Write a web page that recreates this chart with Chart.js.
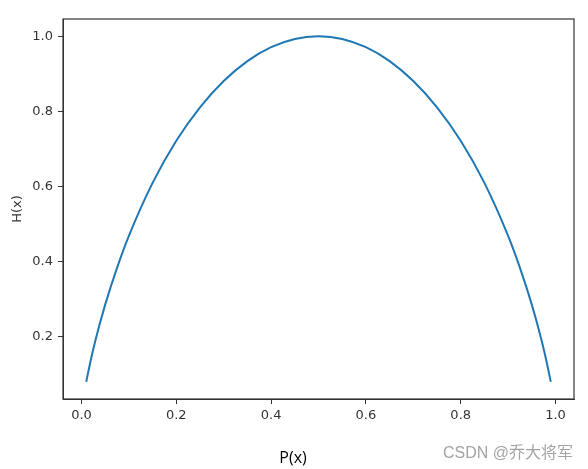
<!DOCTYPE html>
<html>
<head>
<meta charset="utf-8">
<script src="https://cdn.jsdelivr.net/npm/chart.js@4"></script>
<style>
  html, body { margin: 0; padding: 0; background: #fff; }
  #wrap { position: relative; width: 588px; height: 469px; }
  #xlabel {
    position: absolute; left: 293px; top: 457px; transform: translate(-50%, -50%);
    font-family: "Open Sans", sans-serif; font-size: 16px; color: #000; white-space: nowrap;
  }
  #mark {
    position: absolute; right: 15px; top: 451px; transform: translateY(-50%);
    font-family: "Liberation Sans", "Noto Sans CJK SC", sans-serif; font-size: 16px;
    color: #a3a3a3; white-space: nowrap;
  }
</style>
</head>
<body>
<div id="wrap">
  <canvas id="entropyChart" width="588" height="469"></canvas>
  <div id="xlabel">P(x)</div>
  <div id="mark">CSDN @乔大将军</div>
</div>
<script>
// 数据：点
const pValues = [0.01, 0.02, 0.03, 0.05, 0.075, 0.1, 0.15, 0.2, 0.25, 0.3, 0.35, 0.4, 0.45, 0.5,
                 0.55, 0.6, 0.65, 0.7, 0.75, 0.8, 0.85, 0.9, 0.925, 0.95, 0.97, 0.98, 0.99];
const hValues = [0.081, 0.141, 0.194, 0.286, 0.384, 0.469, 0.610, 0.722, 0.811, 0.881, 0.934, 0.971, 0.993, 1.0,
                 0.993, 0.971, 0.934, 0.881, 0.811, 0.722, 0.610, 0.469, 0.384, 0.286, 0.194, 0.141, 0.081];
const xTicks = [0.0, 0.2, 0.4, 0.6, 0.8, 1.0];
const yTicks = [0.2, 0.4, 0.6, 0.8, 1.0];

const tickFont = { family: 'DejaVu Sans', size: 13 };
const axisColor = '#333';

// 画四周的边框（matplotlib 风格）
const framePlugin = {
  id: 'frame',
  afterDraw(chart) {
    const a = chart.chartArea;
    const ctx = chart.ctx;
    ctx.save();
    ctx.strokeStyle = axisColor;
    ctx.lineWidth = 1.2;
    ctx.strokeRect(a.left, a.top, a.right - a.left, a.bottom - a.top);
    ctx.restore();
  }
};

const ctx = document.getElementById('entropyChart').getContext('2d');
new Chart(ctx, {
  type: 'scatter',
  data: {
    datasets: [{
      data: pValues.map((p, i) => ({ x: p, y: hValues[i] })),
      showLine: true,
      borderColor: '#1f77b4',
      borderWidth: 2,
      pointRadius: 0,
      cubicInterpolationMode: 'monotone'
    }]
  },
  options: {
    responsive: false,
    animation: false,
    layout: { padding: { left: 0, right: 14, top: 19, bottom: 0 } },
    plugins: { legend: { display: false }, tooltip: { enabled: false } },
    scales: {
      x: {
        type: 'linear',
        min: -0.039, max: 1.039,
        afterBuildTicks: s => { s.ticks = xTicks.map(v => ({ value: v })); },
        afterFit: s => { s.height = 70; },
        ticks: { font: tickFont, color: axisColor, padding: 4, maxRotation: 0,
                 callback: v => v.toFixed(1) },
        grid: { drawOnChartArea: false, tickLength: 5, color: axisColor },
        border: { color: axisColor }
      },
      y: {
        type: 'linear',
        min: 0.035, max: 1.046,
        afterBuildTicks: s => { s.ticks = yTicks.map(v => ({ value: v })); },
        afterFit: s => { s.width = 63; },
        ticks: { font: tickFont, color: axisColor, padding: 5,
                 callback: v => v.toFixed(1) },
        grid: { drawOnChartArea: false, tickLength: 5, color: axisColor },
        border: { color: axisColor },
        title: { display: true, text: 'H(x)', font: { family: 'DejaVu Sans', size: 13 },
                 color: axisColor, padding: { top: 10, bottom: 0 } }
      }
    }
  },
  plugins: [framePlugin]
});
</script>
</body>
</html>
